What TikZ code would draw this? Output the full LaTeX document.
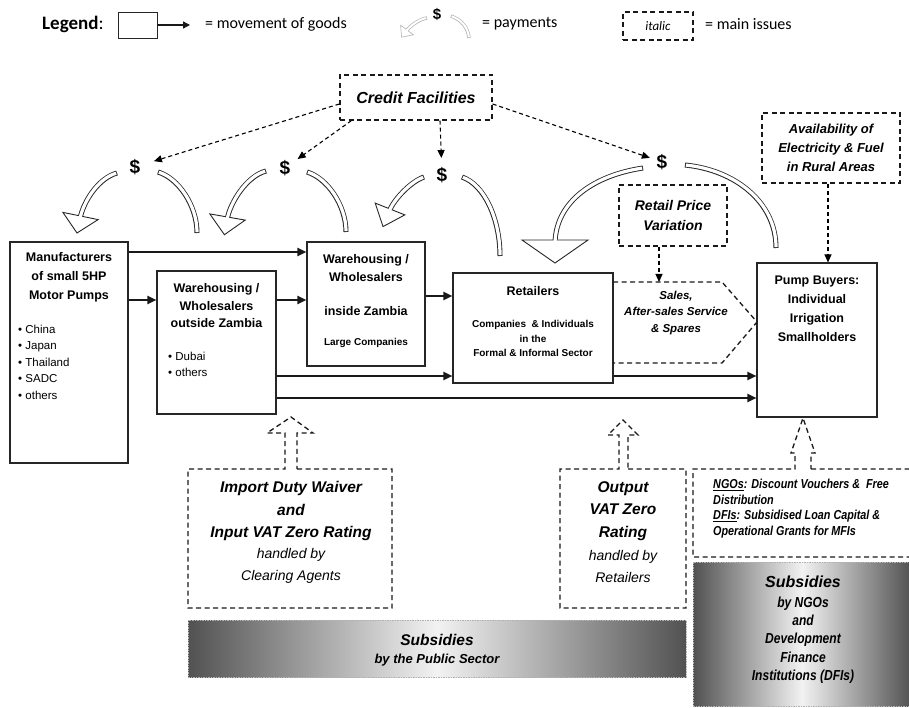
\documentclass[tikz,border=0pt]{standalone}
\usepackage{fontspec}
\setmainfont{Liberation Sans}
\newfontfamily\calfont{Carlito}
\newfontfamily\narfont[FakeStretch=0.83]{Liberation Sans}
\usetikzlibrary{arrows.meta,calc}
\begin{document}
\begin{tikzpicture}[x=1pt,y=-1pt,
  box/.style={draw=black!85,line width=1.1pt,inner sep=0pt},
  goods/.style={line width=2pt,black!90,-{Triangle[length=9pt,width=8pt]}},
  issue/.style={draw=black!90,line width=1.3pt,dash pattern=on 5pt off 3.5pt},
  credarr/.style={black,line width=1.1pt,dash pattern=on 4pt off 3pt,-{Triangle[length=8pt,width=7pt]}},
  ttl/.style={align=center,inner sep=0pt,font=\bfseries\fontsize{12.5}{19}\selectfont},
  lst/.style={align=left,inner sep=0pt,anchor=west,font=\fontsize{11.5}{16.5}\selectfont},
  dollar/.style={inner sep=1pt,font=\bfseries\fontsize{19}{20}\selectfont},
  pshaft/.style={line width=5pt,black!85},
  pcore/.style={line width=3.2pt,white,shorten <=0.9pt},
  pcoreb/.style={line width=3.2pt,white,shorten <=0.9pt,shorten >=0.9pt},
  phead/.style={fill=white,draw=black!85,line width=0.9pt,line join=miter},
  sub/.style={draw=gray!60,line width=0.4pt,dash pattern=on 1.5pt off 1pt,left color=black!68,right color=black!68,middle color=black!5,inner sep=0pt},
  bi/.style={font=\bfseries\itshape\fontsize{#1}{#1}\selectfont,align=center,inner sep=0pt}
]
\useasboundingbox (0,0) rectangle (909,708);
\fill[white] (0,0) rectangle (909,708);

% ---------- legend ----------
\node[anchor=west,inner sep=0pt,font=\calfont\fontsize{19}{20}\selectfont] (legT) at (42,24) {\textbf{Legend}:};
\node[box,line width=0.9pt,minimum width=39pt,minimum height=26pt] (legbox) at (137.5,25) {};
\coordinate (legarr) at (190,25);
\draw[line width=1.3pt,black!90,-{Triangle[length=7pt,width=7pt]}] (legbox.east) -- (legarr);
\node[anchor=west,inner sep=0pt,font=\calfont\fontsize{16}{18}\selectfont] (legG) at (205,24) {= movement of goods};
\draw[line width=3.4pt,gray!60] (427,18) .. controls (420,19) and (410.6,25.2) .. (406.1,31.2);
\draw[fill=white,draw=gray!60,line width=0.6pt] (400.6,25.2) -- (401.6,37.2) -- (413.4,34.8) -- cycle;
\draw[line width=2pt,white,shorten <=0.7pt] (427,18) .. controls (420,19) and (410.6,25.2) .. (406.1,31.2);
\draw[line width=3.4pt,gray!60] (451,16) .. controls (462,20) and (468,28) .. (469,38);
\draw[line width=2pt,white,shorten <=0.7pt,shorten >=0.7pt] (451,16) .. controls (462,20) and (468,28) .. (469,38);
\node[dollar,font=\bfseries\fontsize{15}{16}\selectfont] (legD) at (437,14) {\$};
\node[anchor=west,inner sep=0pt,font=\calfont\fontsize{16}{18}\selectfont] (legP) at (482,24) {= payments};
\node[issue,minimum width=70pt,minimum height=28pt,font=\calfont\itshape\fontsize{13}{14}\selectfont] (legI) at (658,26) {italic};
\node[anchor=west,inner sep=0pt,font=\calfont\fontsize{16}{18}\selectfont] (legM) at (705,24) {= main issues};

% ---------- main boxes ----------
\node[box,minimum width=118pt,minimum height=221pt] (man) at (69,352.5) {};
\node[box,minimum width=119pt,minimum height=143pt] (whout) at (216.5,342.5) {};
\node[box,minimum width=118pt,minimum height=124pt] (whin) at (366,304) {};
\node[box,minimum width=160pt,minimum height=110pt] (ret) at (533,328) {};
\node[box,minimum width=120pt,minimum height=154pt] (pump) at (817,340) {};

\node[ttl] (manT) at (69,277) {Manufacturers\\of small 5HP\\Motor Pumps};
\node[lst] (manL) at (18,362) {• China\\• Japan\\• Thailand\\• SADC\\• others};
\node[ttl,font=\bfseries\fontsize{12.5}{17.5}\selectfont] (whoutT) at (216.5,306) {Warehousing /\\Wholesalers\\outside Zambia};
\node[lst] (whoutL) at (168,364.5) {• Dubai\\• others};
\node[ttl,font=\bfseries\fontsize{12.5}{18}\selectfont] (whinT) at (366,268) {Warehousing /\\Wholesalers};
\node[ttl] (whinZ) at (366,311) {inside Zambia};
\node[ttl,font=\bfseries\fontsize{10}{12}\selectfont] (whinL) at (366,343) {Large Companies};
\node[ttl] (retT) at (533,291) {Retailers};
\node[ttl,font=\bfseries\fontsize{10}{14.5}\selectfont] (retS) at (533,338.5) {Companies\ \ \& Individuals\\in the\\Formal \& Informal Sector};
\node[ttl] (pumpT) at (817,308.5) {Pump Buyers:\\Individual\\Irrigation\\Smallholders};

% ---------- goods flows ----------
\draw[goods] (man.east |- 0,252) -- (whin.west |- 0,252);
\draw[goods] (man.east |- 0,300) -- (whout.west |- 0,300);
\draw[goods] (whout.east |- 0,300) -- (whin.west |- 0,300);
\draw[goods] (whin.east |- 0,296) -- (ret.west |- 0,296);
\draw[goods] (whout.east |- 0,376) -- (ret.west |- 0,376);
\draw[goods] (ret.east |- 0,376) -- (pump.west |- 0,376);
\draw[goods] (whout.east |- 0,398) -- (pump.west |- 0,398);

% ---------- issues ----------
\node[issue,minimum width=152pt,minimum height=45pt,bi=16] (credit) at (416,97.5) {Credit Facilities};
\node[issue,minimum width=108pt,minimum height=61pt,bi=14,font=\bfseries\itshape\fontsize{14}{20}\selectfont] (rpv) at (673,215.5) {Retail Price\\Variation};
\node[issue,minimum width=138pt,minimum height=70pt,bi=13,font=\bfseries\itshape\fontsize{13}{19}\selectfont] (avail) at (831,148) {Availability of\\Electricity \& Fuel\\in Rural Areas};

\draw[issue] (613,282) -- (722,282) -- (757,322) -- (722,363) -- (613,363);
\node[bi=11.5,font=\bfseries\itshape\fontsize{11.5}{16.5}\selectfont] (sales) at (676,313) {Sales,\\After-sales Service\\\& Spares};
\coordinate (salestop) at (659,282);
\draw[credarr] (rpv.south -| salestop) -- (salestop);
\draw[credarr] (avail.south -| 828,0) -- (pump.north -| 828,0);

% ---------- dollars and credit ----------
\node[dollar] (d1) at (135,167) {\$};
\node[dollar] (d2) at (285,168) {\$};
\node[dollar] (d3) at (442,175) {\$};
\node[dollar] (d4) at (662,162) {\$};
\draw[credarr,shorten >=13pt] (credit.west |- 0,104) -- (d1);
\draw[credarr,shorten >=7.5pt] ($(credit.south west)+(12,0)$) -- (d2);
\draw[credarr,shorten >=8pt] (credit.south -| 440,0) -- (d3);
\draw[credarr,shorten >=6pt] (credit.east |- 0,104) -- (d4);

% ---------- payments ----------
% 1
\draw[pshaft] (117,173) .. controls (99,178) and (83.7,200.3) .. (79.9,218.9);
\draw[phead] (62.9,212.4) -- (77,233) -- (98.1,219.6) -- cycle;
\draw[pcore] (117,173) .. controls (99,178) and (83.7,200.3) .. (79.9,218.9);
\draw[pshaft] (158,172) .. controls (178,178) and (197,205) .. (197,233);
\draw[pcoreb] (158,172) .. controls (178,178) and (197,205) .. (197,233);
% 2
\draw[pshaft] (266,171) .. controls (247,176) and (230,202.2) .. (227,220);
\draw[phead] (209.8,213.9) -- (224.4,234.7) -- (245.2,220.1) -- cycle;
\draw[pcore] (266,171) .. controls (247,176) and (230,202.2) .. (227,220);
\draw[pshaft] (307,172) .. controls (327,178) and (346,205) .. (346,232);
\draw[pcoreb] (307,172) .. controls (327,178) and (346,205) .. (346,232);
% 3
\draw[pshaft] (424,177) .. controls (412,181) and (394.5,197.9) .. (388.9,211.8);
\draw[phead] (375.2,203.1) -- (383,226.6) -- (404.8,214.9) -- cycle;
\draw[pcore] (424,177) .. controls (412,181) and (394.5,197.9) .. (388.9,211.8);
\draw[pshaft] (462,177) .. controls (485,185) and (500,220) .. (500,256);
\draw[pcoreb] (462,177) .. controls (485,185) and (500,220) .. (500,256);
% 4
\draw[pshaft] (643,168) .. controls (596,175) and (556,200) .. (555,243);
\draw[phead] (522,240) -- (555,263) -- (588,240) -- cycle;
\draw[pcore] (643,168) .. controls (596,175) and (556,200) .. (555,243);
\draw[pshaft] (685,165) .. controls (735,170) and (776,202) .. (776,248);
\draw[pcoreb] (685,165) .. controls (735,170) and (776,202) .. (776,248);

% ---------- subsidy boxes ----------
\draw[issue] (297,469) -- (392,469) -- (392,608) -- (188,608) -- (188,469) -- (285,469) -- (285,433) -- (267,433) -- (291,417) -- (313,433) -- (297,433) -- cycle;
\node[bi=15.5,font=\bfseries\itshape\fontsize{15.5}{22.5}\selectfont] (impT) at (291,511) {Import Duty Waiver\\and\\Input VAT Zero Rating};
\node[align=center,inner sep=0pt,font=\itshape\fontsize{14}{22}\selectfont] (impH) at (291,566) {handled by\\Clearing Agents};

\draw[issue] (628,469) -- (686,469) -- (686,608) -- (560,608) -- (560,469) -- (619,469) -- (619,435) -- (608,435) -- (623,420) -- (638,435) -- (628,435) -- cycle;
\node[bi=15.5,font=\bfseries\itshape\fontsize{15.5}{22.5}\selectfont] (outT) at (623,511) {Output\\VAT Zero\\Rating};
\node[align=center,inner sep=0pt,font=\itshape\fontsize{14}{22}\selectfont] (outH) at (623,566) {handled by\\Retailers};

\draw[issue] (811,469) -- (915,469) -- (915,557) -- (693,557) -- (693,469) -- (795,469) -- (795,453) -- (791,453) -- (803,418) -- (815,453) -- (811,453) -- cycle;
\node[anchor=west,align=left,inner sep=0pt,font=\narfont\bfseries\itshape\fontsize{13}{15.7}\selectfont] (ngoT) at (713,508.5) {\underline{NGOs}: Discount Vouchers \&\ \ Free\\Distribution\\\underline{DFIs}: Subsidised Loan Capital \&\\Operational Grants for MFIs};

\node[sub,minimum width=498pt,minimum height=57pt] (pub) at (437,648.5) {};
\node[bi=15.5] (pubT) at (437,640) {Subsidies};
\node[bi=13] (pubS) at (437,660) {by the Public Sector};

\node[sub,minimum width=218pt,minimum height=144pt] (ngo) at (802,634) {};
\node[bi=16] (ngoS) at (803,582) {Subsidies};
\node[align=center,inner sep=0pt,font=\narfont\bfseries\itshape\fontsize{14.5}{18.25}\selectfont] (ngoL) at (803,640) {by NGOs\\and\\Development\\Finance\\Institutions (DFIs)};
\end{tikzpicture}
\end{document}
